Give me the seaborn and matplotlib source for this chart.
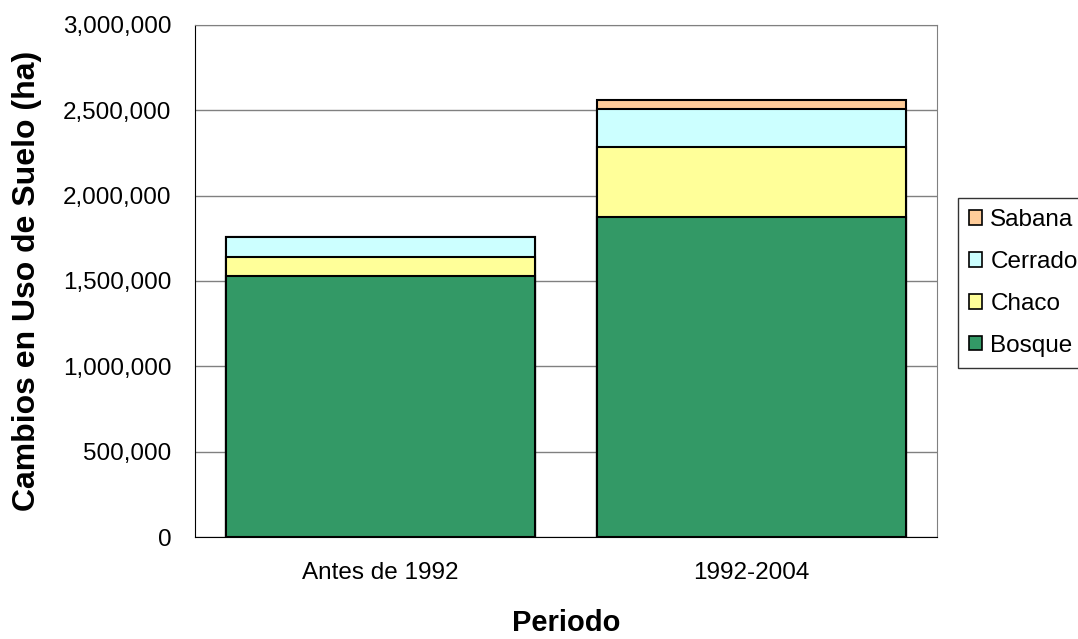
import numpy as np
import pandas as pd
import matplotlib
matplotlib.use("Agg")
import matplotlib.pyplot as plt
from matplotlib.patches import Patch
from matplotlib.ticker import FuncFormatter
import seaborn as sns

periodos = ["Antes de 1992", "1992-2004"]
bosque = [1532000, 1874000]
chaco = [107000, 410000]
cerrado = [121000, 222000]
sabana = [0, 56000]

capas = ["Bosque", "Chaco", "Cerrado", "Sabana"]
colores = {"Bosque": "#339966", "Chaco": "#FFFF99", "Cerrado": "#CCFFFF", "Sabana": "#FFCC99"}


def main():
    sns.set_style("white")
    plt.rcParams["font.family"] = ["Liberation Sans", "DejaVu Sans"]
    plt.rcParams["text.color"] = "black"
    plt.rcParams["axes.labelcolor"] = "black"
    plt.rcParams["xtick.color"] = "black"
    plt.rcParams["ytick.color"] = "black"

    valores = np.array([bosque, chaco, cerrado, sabana], dtype=float)
    acumulado = valores.cumsum(axis=0)

    fig = plt.figure(figsize=(10.78, 6.39), dpi=100)
    ax = fig.add_axes([195 / 1078, 1 - 537 / 639, (937 - 195) / 1078, (537 - 25) / 639])

    # draw from the top layer down so lower segments sit over the taller bars
    for i in range(len(capas) - 1, -1, -1):
        df = pd.DataFrame({"Periodo": periodos, "valor": acumulado[i]})
        sns.barplot(data=df, x="Periodo", y="valor", color=colores[capas[i]],
                    saturation=1, width=0.833, edgecolor="black", linewidth=1.5, ax=ax)

    ax.set_ylim(0, 3000000)
    ax.set_xlim(-0.5, 1.5)
    ax.set_yticks(np.arange(0, 3000001, 500000))
    ax.yaxis.set_major_formatter(FuncFormatter(lambda v, p: f"{int(v):,}"))
    ax.yaxis.grid(True, color="#808080", linewidth=1)
    ax.set_axisbelow(True)

    ax.set_xticks([-0.5, 0.5, 1.5], minor=False)
    ax.set_xticklabels(["", "", ""])
    ax.set_xticks([0, 1], minor=True)
    ax.set_xticklabels(periodos, minor=True)
    ax.tick_params(axis="x", which="major", direction="out", length=8, color="black", width=1)
    ax.tick_params(axis="x", which="minor", length=0, pad=18, labelsize=17.5)
    ax.tick_params(axis="y", direction="out", length=8, color="black", width=1, labelsize=17.5, pad=9)

    ax.set_xlabel("Periodo", fontsize=21, fontweight="bold", va="baseline")
    ax.xaxis.set_label_coords(0.5, -94 / 512)
    ax.set_ylabel("Cambios en Uso de Suelo (ha)", fontsize=23, fontweight="bold")
    ax.yaxis.set_label_coords(-153 / 742, 0.5)

    for lado in ["top", "right"]:
        ax.spines[lado].set_color("#808080")
        ax.spines[lado].set_visible(True)
    for lado in ["left", "bottom"]:
        ax.spines[lado].set_color("black")
        ax.spines[lado].set_visible(True)

    handles = [Patch(facecolor=colores[c], edgecolor="black", linewidth=1.2) for c in capas[::-1]]
    ley = fig.legend(handles, capas[::-1], loc="upper left", bbox_to_anchor=(958 / 1078, 1 - 198 / 639),
                     frameon=True, fancybox=False, edgecolor="black", fontsize=17.5,
                     handlelength=0.55, handleheight=0.55, handletextpad=0.33,
                     labelspacing=0.82, borderpad=0.45, borderaxespad=0)
    ley.get_frame().set_linewidth(1)

    fig.savefig("out.png", dpi=100)


if __name__ == "__main__":
    main()
